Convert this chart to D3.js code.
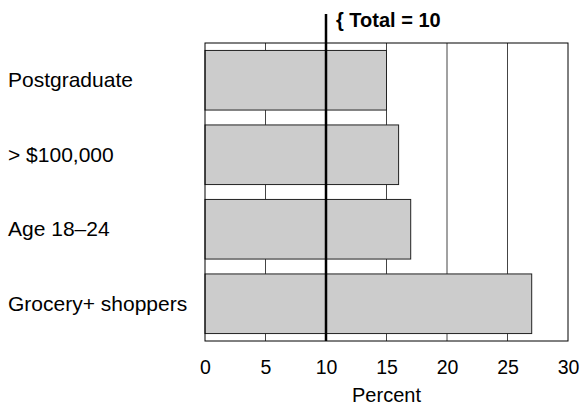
<!DOCTYPE html>
<html><head><meta charset="utf-8">
<script src="https://cdn.jsdelivr.net/npm/d3@7"></script>
<style>body{margin:0;background:#fff}svg{display:block}text{font-family:"Liberation Sans",Arial,sans-serif}</style>
</head><body>
<svg id="c" width="581" height="408"></svg>
<script>
const categories = ["Postgraduate", "> $100,000", "Age 18\u201324", "Grocery+ shoppers"];
const values = [15, 16, 17, 27];
const xTicks = [0, 5, 10, 15, 20, 25, 30];
const refValue = 10;
const refLabel = "{ Total = 10";
const xLabel = "Percent";

const svg = d3.select("#c");
const L = 205, R = 568, T = 43, B = 341;
const x = d3.scaleLinear().domain([0, 30]).range([L, R]);
const y = d3.scaleBand().domain(categories).range([T, B]).paddingInner(0.2).paddingOuter(0.1);

// gridlines
svg.append("g").selectAll("line").data(xTicks.slice(1, -1)).join("line")
  .attr("x1", d => x(d)).attr("x2", d => x(d)).attr("y1", T).attr("y2", B)
  .attr("stroke", "#444").attr("stroke-width", 1);

// bars
svg.append("g").selectAll("rect").data(values).join("rect")
  .attr("x", x(0)).attr("y", (d, i) => y(categories[i]))
  .attr("width", d => x(d) - x(0)).attr("height", y.bandwidth())
  .attr("fill", "#cccccc").attr("stroke", "#222").attr("stroke-width", 1);

// box
svg.append("rect").attr("x", L).attr("y", T).attr("width", R - L).attr("height", B - T)
  .attr("fill", "none").attr("stroke", "#000").attr("stroke-width", 1);

// x axis labels
const ax = svg.append("g").attr("transform", `translate(0,${B})`)
  .call(d3.axisBottom(x).tickValues(xTicks).tickSize(0).tickPadding(19));
ax.select(".domain").remove();
ax.selectAll("text").attr("font-size", 19.5).attr("fill", "#000").attr("font-family", '"Liberation Sans",Arial,sans-serif');

svg.append("text").attr("x", (L + R) / 2).attr("y", 402).attr("text-anchor", "middle")
  .attr("font-size", 20).text(xLabel);

// category labels
svg.append("g").selectAll("text").data(categories).join("text")
  .attr("x", 8).attr("y", d => y(d) + y.bandwidth() / 2).attr("dy", "0.33em")
  .attr("font-size", 21).text(d => d);

// reference line
svg.append("line").attr("x1", x(refValue)).attr("x2", x(refValue)).attr("y1", 14).attr("y2", B)
  .attr("stroke", "#000").attr("stroke-width", 2.5);
svg.append("text").attr("x", x(refValue) + 10).attr("y", 27).attr("font-size", 20)
  .attr("font-weight", "bold").text(refLabel);
</script>
</body></html>
